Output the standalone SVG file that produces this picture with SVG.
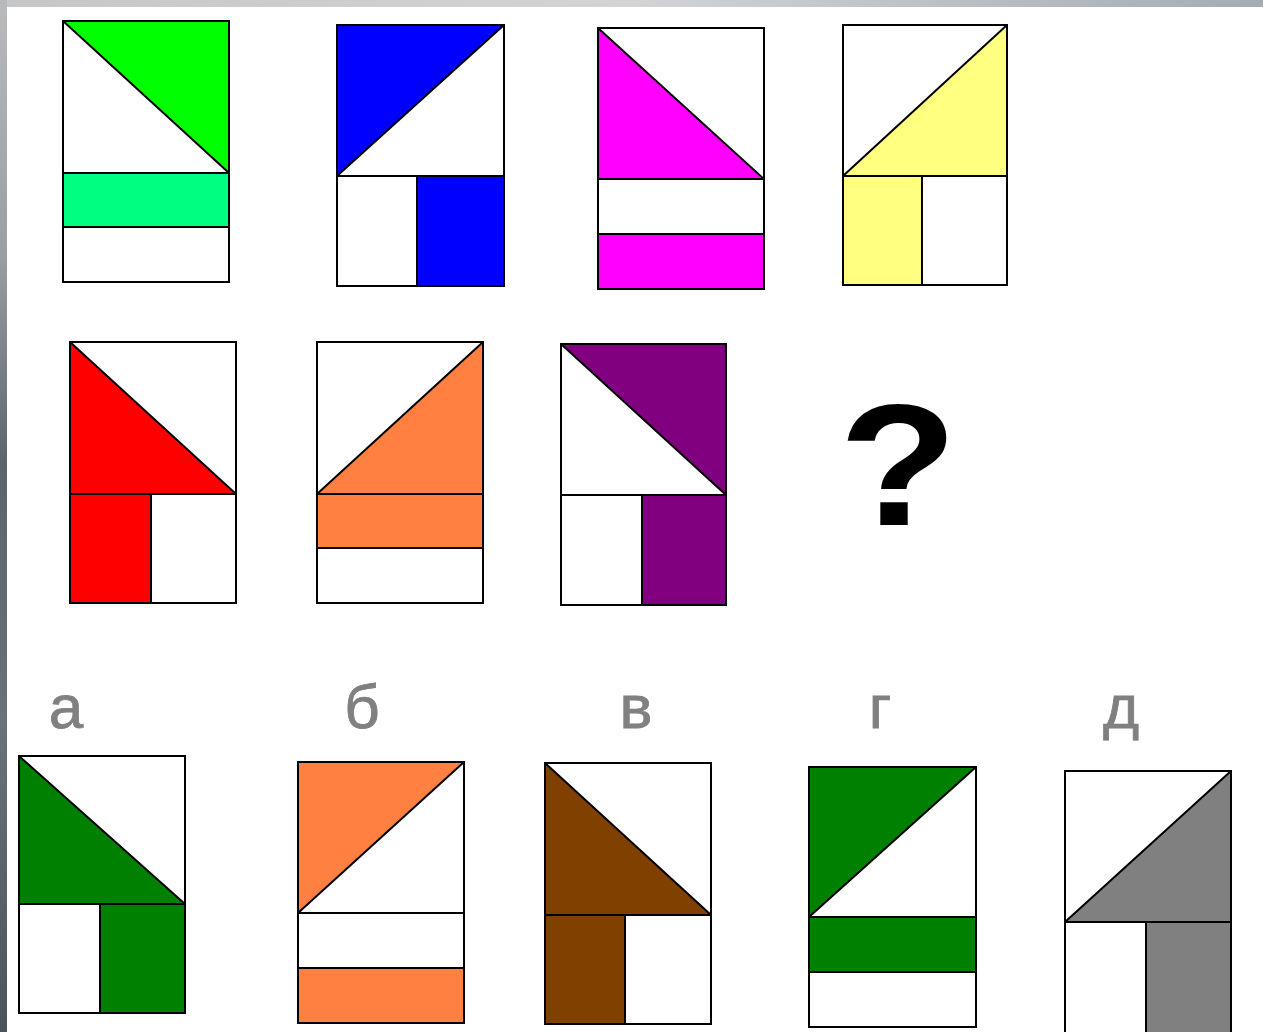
<svg xmlns="http://www.w3.org/2000/svg" width="1263" height="1032" viewBox="0 0 1263 1032">
<defs>
<linearGradient id="topg" x1="0" y1="0" x2="1" y2="0">
<stop offset="0" stop-color="#c4c6c8"/><stop offset="0.5" stop-color="#d2d4d6"/><stop offset="1" stop-color="#a4acb4"/>
</linearGradient>
<linearGradient id="leftg" x1="0" y1="0" x2="0" y2="1">
<stop offset="0" stop-color="#b8babc"/><stop offset="0.25" stop-color="#9a9ea2"/><stop offset="0.45" stop-color="#5c646c"/><stop offset="0.7" stop-color="#6a7278"/><stop offset="1" stop-color="#4c545a"/>
</linearGradient>
<style>
.o{fill:none;stroke:#000;stroke-width:2}
.w{fill:#fff}
.lbl{font-family:"Liberation Sans",Arial,sans-serif;font-size:62px;fill:#808080;stroke:#808080;stroke-width:0.8;text-anchor:middle}
.q{font-family:"Liberation Sans",Arial,sans-serif;font-weight:bold;font-size:172px;fill:#000;text-anchor:middle}
</style>
</defs>
<rect x="0" y="0" width="1263" height="1032" fill="#fff"/>
<rect x="0" y="0" width="1263" height="7" fill="url(#topg)"/>
<rect x="0" y="0" width="7" height="1032" fill="url(#leftg)"/>

<g id="fig1">
<rect class="w" x="63" y="21" width="166" height="261"/>
<polygon points="63,21 229,21 229,173" fill="#00ff00"/>
<rect x="63" y="173" width="166" height="54" fill="#00ff80"/>
<rect class="o" x="63" y="21" width="166" height="261"/>
<path class="o" d="M63,21 L229,173 M63,173 H229 M63,227 H229"/>
</g>
<g id="fig2">
<rect class="w" x="337" y="25" width="167" height="261"/>
<polygon points="337,25 504,25 337,176" fill="#0000ff"/>
<rect x="417" y="176" width="87" height="110" fill="#0000ff"/>
<rect class="o" x="337" y="25" width="167" height="261"/>
<path class="o" d="M504,25 L337,176 M337,176 H504 M417,176 V286"/>
</g>
<g id="fig3">
<rect class="w" x="598" y="28" width="166" height="261"/>
<polygon points="598,28 598,179 764,179" fill="#ff00ff"/>
<rect x="598" y="234" width="166" height="55" fill="#ff00ff"/>
<rect class="o" x="598" y="28" width="166" height="261"/>
<path class="o" d="M598,28 L764,179 M598,179 H764 M598,234 H764"/>
</g>
<g id="fig4">
<rect class="w" x="843" y="25" width="164" height="260"/>
<polygon points="1007,25 843,176 1007,176" fill="#ffff80"/>
<rect x="843" y="176" width="79" height="109" fill="#ffff80"/>
<rect class="o" x="843" y="25" width="164" height="260"/>
<path class="o" d="M1007,25 L843,176 M843,176 H1007 M922,176 V285"/>
</g>
<g id="fig5">
<rect class="w" x="70" y="342" width="166" height="261"/>
<polygon points="70,342 70,494 236,494" fill="#ff0000"/>
<rect x="70" y="494" width="81" height="109" fill="#ff0000"/>
<rect class="o" x="70" y="342" width="166" height="261"/>
<path class="o" d="M70,342 L236,494 M70,494 H236 M151,494 V603"/>
</g>
<g id="fig6">
<rect class="w" x="317" y="342" width="166" height="261"/>
<polygon points="483,342 317,494 483,494" fill="#ff8040"/>
<rect x="317" y="494" width="166" height="54" fill="#ff8040"/>
<rect class="o" x="317" y="342" width="166" height="261"/>
<path class="o" d="M483,342 L317,494 M317,494 H483 M317,548 H483"/>
</g>
<g id="fig7">
<rect class="w" x="561" y="344" width="165" height="261"/>
<polygon points="561,344 726,344 726,495" fill="#800080"/>
<rect x="642" y="495" width="84" height="110" fill="#800080"/>
<rect class="o" x="561" y="344" width="165" height="261"/>
<path class="o" d="M561,344 L726,495 M561,495 H726 M642,495 V605"/>
</g>
<g id="question">
<text class="q" transform="translate(898,525) scale(1.13,1)" x="0" y="0">?</text>
</g>

<g id="label-a"><text class="lbl" x="66" y="728">а</text></g>
<g id="label-b"><text class="lbl" x="362" y="728">б</text></g>
<g id="label-v"><text class="lbl" x="636" y="728">в</text></g>
<g id="label-g"><text class="lbl" x="880" y="728">г</text></g>
<g id="label-d"><text class="lbl" x="1121" y="728">д</text></g>

<g id="opt-a">
<rect class="w" x="19" y="756" width="166" height="257"/>
<polygon points="19,756 19,904 185,904" fill="#008000"/>
<rect x="100" y="904" width="85" height="109" fill="#008000"/>
<rect class="o" x="19" y="756" width="166" height="257"/>
<path class="o" d="M19,756 L185,904 M19,904 H185 M100,904 V1013"/>
</g>
<g id="opt-b">
<rect class="w" x="298" y="762" width="166" height="261"/>
<polygon points="298,762 464,762 298,913" fill="#ff8040"/>
<rect x="298" y="968" width="166" height="55" fill="#ff8040"/>
<rect class="o" x="298" y="762" width="166" height="261"/>
<path class="o" d="M464,762 L298,913 M298,913 H464 M298,968 H464"/>
</g>
<g id="opt-v">
<rect class="w" x="545" y="763" width="166" height="261"/>
<polygon points="545,763 545,915 711,915" fill="#804000"/>
<rect x="545" y="915" width="80" height="109" fill="#804000"/>
<rect class="o" x="545" y="763" width="166" height="261"/>
<path class="o" d="M545,763 L711,915 M545,915 H711 M625,915 V1024"/>
</g>
<g id="opt-g">
<rect class="w" x="809" y="767" width="167" height="260"/>
<polygon points="809,767 976,767 809,917" fill="#008000"/>
<rect x="809" y="917" width="167" height="55" fill="#008000"/>
<rect class="o" x="809" y="767" width="167" height="260"/>
<path class="o" d="M976,767 L809,917 M809,917 H976 M809,972 H976"/>
</g>
<g id="opt-d">
<rect class="w" x="1065" y="771" width="166" height="262"/>
<polygon points="1231,771 1065,922 1231,922" fill="#808080"/>
<rect x="1146" y="922" width="85" height="111" fill="#808080"/>
<rect class="o" x="1065" y="771" width="166" height="262"/>
<path class="o" d="M1231,771 L1065,922 M1065,922 H1231 M1146,922 V1033"/>
</g>
<g id="connectors"></g>
</svg>
